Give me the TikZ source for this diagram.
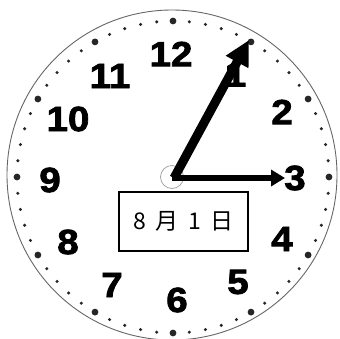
\documentclass[tikz,border=0pt]{standalone}
\usepackage{fontspec}
\setmainfont{Liberation Sans}
\newfontfamily\numfont[FakeBold=2.2,FakeStretch=1.1]{Liberation Sans Bold}
\newfontfamily\cjk{Noto Sans CJK SC}
\usetikzlibrary{calc,arrows.meta}

\begin{document}
\begin{tikzpicture}[x=1pt,y=-1pt,
    numeral/.style={font=\numfont\fontsize{35}{35}\selectfont,inner sep=0pt},
    tick/.style={fill=black!85},
    hand/.style={line width=#1,line cap=butt}]
    \useasboundingbox (0,0) rectangle (340,338);
    \coordinate (pivot) at (174,178);

    % dial
    \begin{scope}
      \clip (0,0) rectangle (340,338);
      \draw[black!60,line width=0.9] (172,175) circle (165);
    \end{scope}
    \foreach \i in {0,...,59} {
      \pgfmathsetmacro{\r}{mod(\i,5)==0 ? 3.4 : 1.7}
      \fill[tick] ($(173,177)+(-90+6*\i:156)$) circle (\r);
    }

    % numerals
    \foreach \n/\x/\y in {12/171/54, 1/235.5/74.5, 2/282/112, 3/295/178,
        4/282/239, 5/238/282, 6/177/300, 7/112/285, 8/68/242,
        9/50/180, 10/68/119, 11/110/76}
      \node[numeral] (n\n) at (\x,\y) {\n};

    \draw[black!35,line width=0.8] (172,177) circle (11.5);

    % hands
    \coordinate (minute) at (249,40);
    \coordinate (hour) at (285,178);
    \draw[hand=9,-{Triangle[length=25pt,width=24pt]}] (pivot) -- (minute);
    \draw[hand=5.5,-{Triangle[length=14pt,width=16pt]}] ([xshift=-2]pivot) -- (hour);

    % date
    \node[draw,line width=1.1,minimum width=129,minimum height=59,
          fill=white,font=\cjk\fontsize{23}{23}\selectfont] (date) at (183.5,221.5)
      {8\hspace{0.42em}月\hspace{0.42em}1\hspace{0.42em}日};
\end{tikzpicture}
\end{document}
